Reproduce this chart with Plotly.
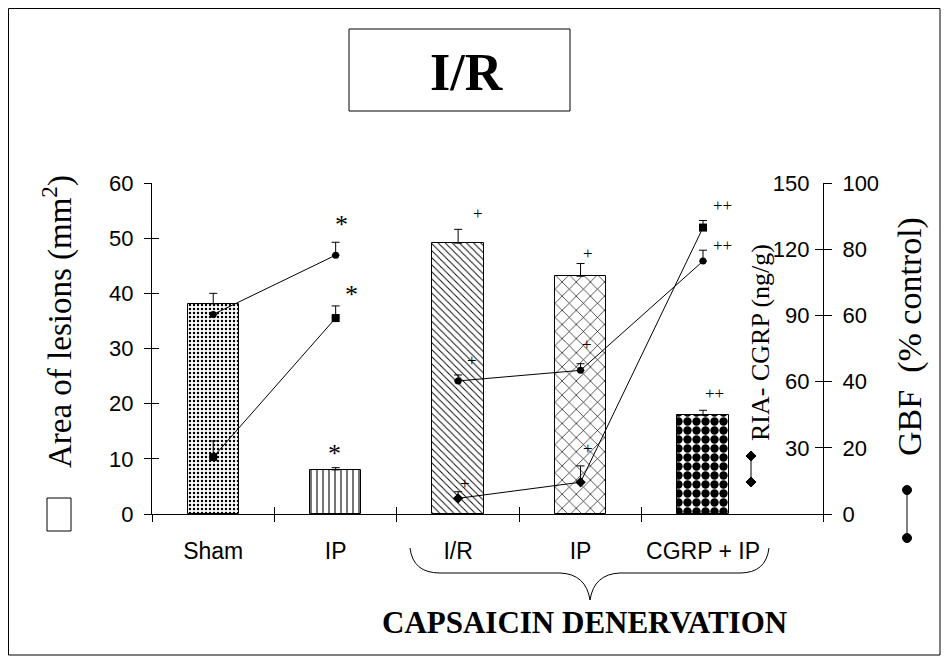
import plotly.graph_objects as go

# ---------------- data ----------------
categories = ["Sham", "IP", "I/R", "IP", "CGRP + IP"]
lesion_area = [38.1, 8.0, 49.1, 43.1, 17.9]          # mm2 (left axis)
lesion_err = [1.9, 0.4, 2.5, 2.3, 0.9]
ria_cgrp = [25.8, 88.8, 7.1, 14.4, 129.8]             # ng/g (0-150 axis)
ria_err = [7.3, 5.5, 3.0, 7.4, 3.2]
ria_symbols = ["square", "square", "diamond", "diamond", "square"]
gbf = [60.3, 78.2, 40.2, 43.4, 76.4]                  # % control (0-100 axis)
gbf_err = [0.0, 3.9, 1.8, 2.0, 3.3]
segments = [[0, 1], [2, 3, 4]]                        # connected groups

left_ticks = [0, 10, 20, 30, 40, 50, 60]
ria_ticks = [30, 60, 90, 120, 150]
gbf_ticks = [0, 20, 40, 60, 80, 100]

# significance marks: (text, category x, left-axis y)
marks = [("*", 1.05, 52.4), ("*", 1.13, 39.7), ("*", 0.99, 10.9),
         ("+", 2.16, 54.4), ("+", 2.11, 27.9), ("+", 2.06, 5.6),
         ("+", 3.06, 47.3), ("+", 3.05, 30.8), ("+", 3.06, 11.8),
         ("++", 4.16, 56.0), ("++", 4.16, 48.6), ("++", 4.09, 21.9)]

patterns = [dict(shape=".", size=4, solidity=0.3),
            dict(shape="|", size=6, solidity=0.18),
            dict(shape="\\", size=5, solidity=0.18),
            dict(shape="x", size=10, solidity=0.13),
            dict(shape=".", size=9, solidity=0.68)]

SANS = "Liberation Sans, Arial, sans-serif"
SERIF = "Liberation Serif, Times New Roman, serif"

OFF = 8                      # page body margin
W, H = 951 - OFF, 661 - OFF
# plot area in reference-page pixels
RL, RR, RT, RB = 152, 823, 183, 514
L, R, T, B = RL - OFF, RR - OFF, RT - OFF, RB - OFF


def px(x, y):
    """reference page pixel -> paper coords"""
    return (x - RL) / (RR - RL), (RB - y) / (RB - RT)


fig = go.Figure()

xs = list(range(len(categories)))
for i in xs:
    p = patterns[i]
    fig.add_trace(go.Bar(
        x=[xs[i]], y=[lesion_area[i]], width=0.42,
        marker=dict(color="white", line=dict(color="black", width=1),
                    pattern=dict(shape=p["shape"], size=p["size"], solidity=p["solidity"],
                                 fgcolor="black", bgcolor="white", fillmode="replace")),
        error_y=dict(type="data", array=[lesion_err[i]], arrayminus=[0], symmetric=False,
                     color="black", thickness=1, width=4),
        xaxis="x", yaxis="y", showlegend=False, hoverinfo="skip"))

for seg in segments:
    fig.add_trace(go.Scatter(
        x=[xs[k] for k in seg], y=[gbf[k] for k in seg], mode="lines+markers",
        line=dict(color="black", width=1),
        marker=dict(symbol="circle", size=7, color="black"),
        error_y=dict(type="data", array=[gbf_err[k] for k in seg], arrayminus=[0] * len(seg),
                     symmetric=False, color="black", thickness=1, width=4),
        xaxis="x", yaxis="y2", showlegend=False, hoverinfo="skip"))
    fig.add_trace(go.Scatter(
        x=[xs[k] for k in seg], y=[ria_cgrp[k] for k in seg], mode="lines+markers",
        line=dict(color="black", width=1),
        marker=dict(symbol=[ria_symbols[k] for k in seg], size=8, color="black"),
        error_y=dict(type="data", array=[ria_err[k] for k in seg], arrayminus=[0] * len(seg),
                     symmetric=False, color="black", thickness=1, width=4),
        xaxis="x", yaxis="y3", showlegend=False, hoverinfo="skip"))

# empty traces so that the tick-only overlay axes are drawn
for xa, ya in [("x2", "y"), ("x3", "y"), ("x", "y4")]:
    fig.add_trace(go.Scatter(x=[None], y=[None], xaxis=xa, yaxis=ya,
                             showlegend=False, hoverinfo="skip"))

xrange = [-0.5, 4.98]
bounds = [-0.5, 0.5, 1.5, 2.5, 3.5, 4.98]
tick_common = dict(showgrid=False, zeroline=False, tickcolor="black", tickwidth=1)

fig.update_layout(
    width=W, height=H, plot_bgcolor="white", paper_bgcolor="white",
    margin=dict(l=L, r=W - R, t=T, b=H - B, pad=0), showlegend=False, bargap=0,
    xaxis=dict(range=xrange, tickvals=xs, ticktext=categories, ticks="",
               showline=True, linecolor="black", linewidth=1,
               tickfont=dict(family=SANS, size=23, color="black"),
               ticklabelstandoff=16, **tick_common),
    xaxis2=dict(range=xrange, overlaying="x", anchor="y", tickvals=bounds, ticks="outside",
                ticklen=7, showticklabels=False, showline=False, **tick_common),
    xaxis3=dict(range=xrange, overlaying="x", anchor="y", tickvals=bounds, ticks="inside",
                ticklen=7, showticklabels=False, showline=False, **tick_common),
    yaxis=dict(range=[0, 60], tickvals=left_ticks, ticks="outside", ticklen=7,
               showline=True, linecolor="black", linewidth=1,
               tickfont=dict(family=SANS, size=22, color="black"),
               ticklabelstandoff=6, **tick_common),
    yaxis4=dict(range=[0, 60], overlaying="y", anchor="x", side="left", tickvals=left_ticks,
                ticks="inside", ticklen=7, showticklabels=False, showline=False, **tick_common),
    yaxis2=dict(range=[0, 100], overlaying="y", anchor="x", side="right", tickvals=gbf_ticks,
                ticks="outside", ticklen=8, showline=True, linecolor="black", linewidth=1,
                tickfont=dict(family=SANS, size=22, color="black"),
                ticklabelstandoff=6, **tick_common),
    yaxis3=dict(range=[0, 150], overlaying="y", anchor="x", side="right", tickvals=ria_ticks,
                ticks="inside", ticklen=8, ticklabelposition="inside",
                ticklabeloverflow="allow", ticklabelstandoff=7, showline=False,
                tickfont=dict(family=SANS, size=22, color="black"), **tick_common),
)

for txt, x, y in marks:
    star = txt == "*"
    fig.add_annotation(x=x, y=y, xref="x", yref="y", text=txt, showarrow=False,
                       font=dict(family=SERIF, size=26 if star else 17, color="black"))

# axis titles and headings (reference pixel centres)
ann = [
    ("Area of lesions (mm<sup>2</sup>)", 57, 322, 33, -90),
    ("RIA- CGRP (ng/g)", 760, 343, 26, -90),
    ("GBF  (% control)", 910, 337, 34, -90),
    ("<b>I/R</b>", 467, 72, 52, 0),
    ("<b>CAPSAICIN DENERVATION</b>", 584, 622, 31, 0),
]
for text, x, y, size, ang in ann:
    xp, yp = px(x, y)
    fig.add_annotation(x=xp, y=yp, xref="paper", yref="paper", text=text, showarrow=False,
                       textangle=ang, xanchor="center", yanchor="middle",
                       font=dict(family=SERIF, size=size, color="black"))


def rect(x0, y0, x1, y1, fill="rgba(0,0,0,0)", line=1):
    a, b = px(x0, y0)
    c, d = px(x1, y1)
    fig.add_shape(type="rect", xref="paper", yref="paper", x0=a, y0=d, x1=c, y1=b,
                  line=dict(color="black", width=line), fillcolor=fill)


rect(OFF + 0.5, OFF + 0.5, 940, 655)   # outer frame
rect(349, 29, 570, 111)                # title box
rect(47, 498, 71, 531)                 # bar legend symbol


def path(points):
    out = []
    for cmd, coords in points:
        pts = []
        for i in range(0, len(coords), 2):
            a, b = px(coords[i], coords[i + 1])
            pts.append(f"{a:.5f},{b:.5f}")
        out.append(cmd + " ".join(pts))
    return " ".join(out)


brace = path([("M", (410, 548)), ("Q", (413, 573, 440, 573)), ("L", (560, 573)),
              ("Q", (586, 574, 590, 600)), ("Q", (594, 574, 620, 573)), ("L", (740, 573)),
              ("Q", (766, 573, 769, 548))])
fig.add_shape(type="path", xref="paper", yref="paper", path=brace,
              line=dict(color="black", width=1))

# legend glyphs for the line series
for (x, y0, y1, sym, r) in [(751, 456, 482, "diamond", 5), (907, 490, 538, "circle", 4.5)]:
    a, b0 = px(x, y0)
    _, b1 = px(x, y1)
    fig.add_shape(type="line", xref="paper", yref="paper", x0=a, x1=a, y0=b0, y1=b1,
                  line=dict(color="black", width=1))
    for yy in (y0, y1):
        if sym == "circle":
            c0 = px(x - r, yy + r)
            c1 = px(x + r, yy - r)
            fig.add_shape(type="circle", xref="paper", yref="paper",
                          x0=c0[0], y0=c0[1], x1=c1[0], y1=c1[1],
                          fillcolor="black", line=dict(color="black", width=1))
        else:
            d = path([("M", (x, yy - r)), ("L", (x + r, yy)), ("L", (x, yy + r)),
                      ("L", (x - r, yy))]) + " Z"
            fig.add_shape(type="path", xref="paper", yref="paper", path=d,
                          fillcolor="black", line=dict(color="black", width=1))

fig.write_html("out.html")
